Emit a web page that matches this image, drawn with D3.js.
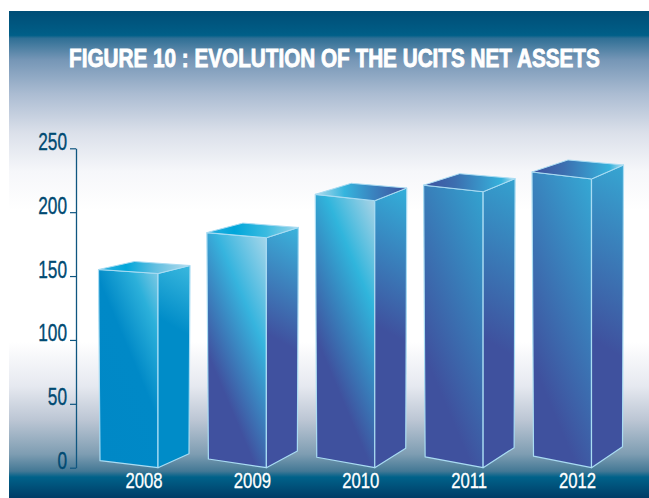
<!DOCTYPE html>
<html><head><meta charset="utf-8">
<script src="https://cdn.jsdelivr.net/npm/d3@7"></script>
<style>
html,body{margin:0;padding:0;background:#fff}
svg{display:block}
text{font-family:"Liberation Sans",Arial,sans-serif}
</style></head><body><div id="chart"></div>
<script>
const titleText = "FIGURE 10 : EVOLUTION OF THE UCITS NET ASSETS";
const years = ["2008","2009","2010","2011","2012"];
const netAssets = [152, 180, 209, 216, 226];
const yTicks = [0, 50, 100, 150, 200, 250];

// colour ramps per bar: [offset, colour]
const frontRamps = [
  [[0,"#0088c6"],[.55,"#0089c7"],[.82,"#2cb0da"],[1,"#7cc9e4"]],
  [[0,"#40519f"],[.29,"#40519f"],[.68,"#36b4de"],[1,"#a5d6ea"]],
  [[0,"#3f519e"],[.3,"#3f519e"],[.72,"#30b5dc"],[1,"#a9d3e6"]],
  [[0,"#3f519e"],[.25,"#3f519e"],[1,"#33a2cf"]],
  [[0,"#3f519e"],[.22,"#3f519e"],[1,"#35a8d4"]]
];
const sideRamps = [
  [[0,"#008cc8"],[.68,"#008cc8"],[1,"#3ab8de"]],
  [[0,"#40519f"],[.52,"#40519f"],[1,"#3ab4dc"]],
  [[0,"#3f519e"],[.48,"#3f519e"],[1,"#33b0da"]],
  [[0,"#3f519e"],[.42,"#3f519e"],[1,"#34a2cf"]],
  [[0,"#3f519e"],[.4,"#3f519e"],[1,"#36a6d2"]]
];
const topRamps = [
  [[0,"#35b4e0"],[.3,"#00a6da"],[.6,"#5cbde0"],[1,"#b5dcec"]],
  [[0,"#2ab0e0"],[.3,"#00a6da"],[.65,"#3bbbe0"],[1,"#a0d6ea"]],
  [[0,"#b5dcec"],[.32,"#35b5de"],[.62,"#3a85c0"],[1,"#3f519e"]],
  [[0,"#3f519e"],[.35,"#3c6fb0"],[.85,"#36b2dc"],[1,"#b5e0f0"]],
  [[0,"#3f519e"],[.35,"#3c6fb0"],[.85,"#36b2dc"],[1,"#b5e0f0"]]
];
const backgroundStops = [
  [0,"#004d76"],[.05,"#005f88"],[.056,"#2f6f95"],[.1,"#7596b6"],[.17,"#abbcd2"],[.25,"#dbe0ea"],[.33,"#f6f7fa"],[.41,"#ffffff"],
  [.68,"#ffffff"],[.77,"#e6e9f0"],[.84,"#bcc6d4"],[.91,"#7e9db2"],[.945,"#437895"],[.957,"#00628a"],[1,"#003c66"]
];

const W = 649, H = 498;
const svg = d3.select("#chart").append("svg").attr("width", W).attr("height", H);
const defs = svg.append("defs");

function gradient(id, ramp, p0, p1) {
  const g = defs.append("linearGradient").attr("id", id).attr("gradientUnits", "userSpaceOnUse")
    .attr("x1", p0[0]).attr("y1", p0[1]).attr("x2", p1[0]).attr("y2", p1[1]);
  g.selectAll("stop").data(ramp).join("stop").attr("offset", d => d[0]).attr("stop-color", d => d[1]);
}
function directed(id, ramp, from, to, dir) {
  const len = (to[0]-from[0])*dir[0] + (to[1]-from[1])*dir[1];
  gradient(id, ramp, from, [from[0]+dir[0]*len, from[1]+dir[1]*len]);
}

// background panel
gradient("bg", backgroundStops, [0, 11], [0, 498]);
svg.append("rect").attr("x", 9).attr("y", 11).attr("width", W-9).attr("height", H-11).attr("fill", "url(#bg)");

const title = svg.append("text").text(titleText)
  .attr("font-size", 26).attr("font-weight", 700).attr("fill", "#fff");
const titleK = 531 / title.node().getComputedTextLength();
title.attr("transform", `translate(69,67) scale(${titleK},1)`).attr("stroke", "#fff").attr("stroke-width", .9);

const y = d3.scaleLinear().domain([0, 250]).range([467.7, 148.3]);
const x = d3.scalePoint().domain(years).range([143.5, 577]);

// perspective grows with bar value
const persp = r => d3.scaleLinear().domain([152, 226]).range(r);
const baseFrontRise = persp([7, 11.5]), topFrontRise = persp([4, 7]);
const baseSideRise = persp([14, 21]), topSideRise = persp([8, 14]), backRise = persp([12, 19]);
const frontOffset = 14.5, frontW = 58, frontTopW = 59.5, sideW = 31, sideTopW = 32, backX = 23.5;

const line = pts => "M" + pts.map(p => p.join(",")).join("L") + "Z";
const bars = svg.append("g");
years.forEach((yr, i) => {
  const v = netAssets[i];
  const fx = x(yr) + frontOffset, by = y(0), ty = y(v);
  const FLb = [fx-frontW, by-baseFrontRise(v)], FRb = [fx, by];
  const FLt = [fx-frontTopW, ty-topFrontRise(v)], FRt = [fx, ty];
  const SRb = [fx+sideW, by-baseSideRise(v)], SRt = [fx+sideTopW, ty-topSideRise(v)];
  const Bt = [fx-backX, ty-backRise(v)];
  directed("f"+i, frontRamps[i], FLb, FRt, [.92,-.39]);
  directed("s"+i, sideRamps[i], FRb, SRt, [.5,-.866]);
  gradient("t"+i, topRamps[i], [FLt[0],0], [SRt[0],0]);
  const g = bars.append("g").attr("stroke", "#a9dcf3").attr("stroke-width", 1.2).attr("stroke-linejoin", "round");
  g.append("path").attr("d", line([FLb,FRb,FRt,FLt])).attr("fill", `url(#f${i})`);
  g.append("path").attr("d", line([FRb,SRb,SRt,FRt])).attr("fill", `url(#s${i})`);
  g.append("path").attr("d", line([FLt,FRt,SRt,Bt])).attr("fill", `url(#t${i})`).attr("stroke-width", 1);
});

const yAxis = svg.append("g").attr("transform", "translate(76,0)")
  .call(d3.axisLeft(y).tickValues(yTicks).tickSize(6).tickSizeOuter(0));
yAxis.select(".domain").attr("stroke", "#0f5680").attr("stroke-width", 1.3);
yAxis.selectAll("line").attr("stroke", "#0f5680").attr("stroke-width", 1.2);
yAxis.selectAll("text").attr("font-size", 23).attr("fill", "#004a72")
  .attr("stroke", "#004a72").attr("stroke-width", .35)
  .attr("x", 0).attr("dy", 0).attr("y", 0)
  .attr("transform", "translate(-9,1) scale(.75,1)")
  .style("font-family", '"Liberation Sans",Arial,sans-serif');

const xAxis = svg.append("g").attr("transform", "translate(0,488)")
  .call(d3.axisBottom(x).tickSize(0));
xAxis.select(".domain").remove();
xAxis.selectAll("text").attr("font-size", 22).attr("fill", "#fff")
  .attr("stroke", "#fff").attr("stroke-width", .3)
  .attr("y", 0).attr("dy", 0)
  .attr("transform", "scale(.76,1)")
  .style("font-family", '"Liberation Sans",Arial,sans-serif');
</script></body></html>
